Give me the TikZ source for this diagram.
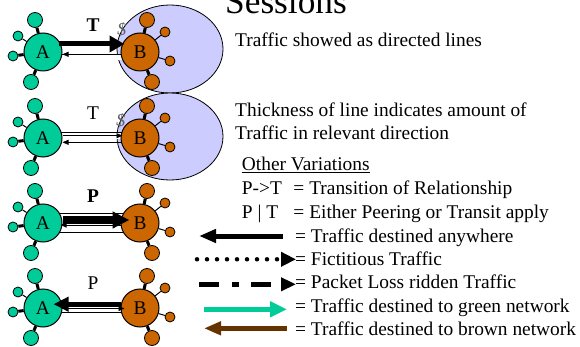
\documentclass[tikz,border=0pt]{standalone}
\usepackage{fontspec}
\setmainfont{Liberation Serif}
\usetikzlibrary{positioning,arrows.meta,backgrounds}
\definecolor{netgreen}{HTML}{00CC99}
\definecolor{netbrown}{HTML}{CC6600}
\definecolor{darkbrown}{HTML}{663300}
\definecolor{cloud}{HTML}{CCCCFF}

\begin{document}
\begin{tikzpicture}[x=1pt,y=-1pt,
		greenhub/.style={circle,draw=black,line width=1pt,fill=netgreen,inner sep=0pt,minimum size=38pt,font=\fontsize{19.4}{22}\selectfont},
		brownhub/.style={circle,draw=black,line width=1pt,fill=netbrown,inner sep=0pt,minimum size=38pt,font=\fontsize{19.4}{22}\selectfont},
		bigsat/.style={circle,draw=black,line width=0.8pt,inner sep=0pt,minimum size=15pt},
		smallsat/.style={circle,draw=black,line width=0.8pt,inner sep=0pt,minimum size=10pt},
		fatspoke/.style={line width=3pt},
		thinspoke/.style={line width=1pt},
		pipe/.style={line width=0.8pt,double=white,double distance=#1,shorten <=-4pt,shorten >=-4pt},
		bigflow/.style={line width=5pt,-{Triangle[length=15pt,width=16pt]}},
		smallflow/.style={line width=0.8pt,-{Triangle[length=6pt,width=5pt]}},
		tag/.style={anchor=base,inner sep=0pt,font=\fontsize{19.4}{23}\selectfont},
		dollar/.style={inner sep=0pt,text=gray!75!black,font=\fontsize{18}{18}\selectfont,rotate=-10},
		txt/.style={anchor=base west,inner sep=0pt,font=\fontsize{19.4}{23}\selectfont}]
		\useasboundingbox (0,0) rectangle (580,347);

		\foreach \r/\y in {1/52,2/138,3/223,4/308}{
			\node[greenhub]							(a\r)		at (43,\y)	{A};
			\node[brownhub,right=58pt of a\r]		(b\r)					{B};
			\node[bigsat,fill=netgreen]				(atop\r)	at ([shift={(-8,-32)}]a\r)	{};
			\node[smallsat,fill=netgreen]			(aul\r)		at ([shift={(-25,-16)}]a\r)	{};
			\node[smallsat,fill=netgreen]			(alft\r)	at ([shift={(-30,4)}]a\r)	{};
			\node[bigsat,fill=netgreen]				(abot\r)	at ([shift={(-12,30)}]a\r)	{};
			\node[bigsat,fill=netbrown]				(btop\r)	at ([shift={(7,-32)}]b\r)	{};
			\node[smallsat,fill=netbrown]			(bur\r)		at ([shift={(25,-20)}]b\r)	{};
			\node[smallsat,fill=netbrown]			(brt\r)		at ([shift={(30,9)}]b\r)	{};
			\node[bigsat,fill=netbrown]				(bbot\r)	at ([shift={(12,30)}]b\r)	{};

			\draw[fatspoke] (a\r) -- (atop\r);
			\draw[thinspoke] (a\r) -- (aul\r);
			\draw[fatspoke] (a\r) -- (alft\r);
			\draw[fatspoke] (a\r) -- (abot\r);
			\draw[fatspoke] (b\r) -- (btop\r);
			\draw[thinspoke] (b\r) -- (bur\r);
			\draw[thinspoke] (b\r) -- (brt\r);
			\draw[fatspoke] (b\r) -- (bbot\r);
		}

		\begin{pgfonlayer}{background}
			\draw[line width=0.8pt,fill=cloud] (170,49) ellipse [x radius=53pt,y radius=44pt];
			\draw[line width=0.8pt,fill=cloud] (170,136.5) ellipse [x radius=53pt,y radius=43.5pt];
			\draw[pipe=4.9pt] ([yshift=-5.2pt]a1.east) -- ([yshift=-5.2pt]b1.west);
			\draw[pipe=5.9pt] ([yshift=2.3pt]a2.east) -- ([yshift=2.3pt]b2.west);
			\draw[pipe=18.2pt] ([yshift=0.3pt]a3.east) -- ([yshift=0.3pt]b3.west);
			\draw[pipe=3pt] ([yshift=-2.4pt]a4.east) -- ([yshift=-2.4pt]b4.west);
		\end{pgfonlayer}

		\draw[bigflow,shorten <=-4pt,shorten >=-4pt] ([yshift=8pt]a1.east) -- ([yshift=8pt]b1.west);
		\draw[smallflow] ([yshift=-2.3pt]b1.west) -- ([yshift=-2.3pt]a1.east);

		\draw[smallflow,shorten >=-2pt] ([yshift=2.3pt]a2.east) -- ([yshift=2.3pt]b2.west);
		\draw[smallflow] ([yshift=-4.3pt]b2.west) -- ([yshift=-4.3pt]a2.east);

		\draw[smallflow,shorten >=-2pt] ([yshift=-2pt]b3.west) -- ([yshift=-2pt]a3.east);
		\draw[bigflow,line width=7pt,-{Triangle[length=17pt,width=16pt]},shorten >=-9pt] ([yshift=3pt]a3.east) -- ([yshift=3pt]b3.west);

		\draw[smallflow,shorten >=-4pt] ([yshift=-0.5pt]a4.east) -- ([yshift=-0.5pt]b4.west);
		\draw[bigflow,-{Triangle[length=15pt,width=14pt]},shorten >=-9pt] ([yshift=3.8pt]b4.west) -- ([yshift=3.8pt]a4.east);

		\node[tag]		(t1)	at (93,31.7)	{\textbf{T}};
		\node[tag]		(t2)	at (93,119.3)	{T};
		\node[tag]		(p3)	at (93,202.7)	{\textbf{P}};
		\node[tag]		(p4)	at (93,289)		{P};
		\node[dollar]	(d1)	at (122,30)		{\$};
		\node[dollar]	(d2)	at (121,121)	{\$};

		\node[anchor=base west,inner sep=0pt,font=\fontsize{35.3}{40}\selectfont] (title) at (225,14) {Sessions};
		\node[txt]	(note1)		at (235,46.7)	{Traffic showed as directed lines};
		\node[txt]	(note2)		at (235,116.7)	{Thickness of line indicates amount of};
		\node[txt]	(note3)		at (235,140)	{Traffic in relevant direction};
		\node[txt]	(other)		at (241.7,171)	{\underline{Other Variations}};
		\node[txt]	(ptot)		at (241.7,195)	{\makebox[51.6pt][l]{P->T}= Transition of Relationship};
		\node[txt]	(port)		at (241.7,218.5)	{\makebox[51.6pt][l]{P | T}= Either Peering or Transit apply};
		\node[txt]	(any)		at (295,242)	{= Traffic destined anywhere};
		\node[txt]	(fict)		at (295,265)	{= Fictitious Traffic};
		\node[txt]	(loss)		at (295,288.5)	{= Packet Loss ridden Traffic};
		\node[txt]	(togreen)	at (295,312.5)	{= Traffic destined to green network};
		\node[txt]	(tobrown)	at (295,335)	{= Traffic destined to brown network};

		\coordinate (k1) at (283,236);		\coordinate (k1e) at (199,236);
		\coordinate (k2) at (197,259.3);	\coordinate (k2e) at (296,259.3);
		\coordinate (k3) at (199,284.3);	\coordinate (k3e) at (296,284.3);
		\coordinate (k4) at (204,309.3);	\coordinate (k4e) at (287,309.3);
		\coordinate (k5) at (287,328.3);	\coordinate (k5e) at (204,328.3);
		\draw[line width=5pt,-{Triangle[length=17pt,width=13pt]}] (k1) -- (k1e);
		\draw[line width=4.5pt,line cap=round,dash pattern=on 0pt off 10pt,-{Triangle[length=15pt,width=14pt]}] (k2) -- (k2e);
		\draw[line width=5pt,dash pattern=on 20pt off 13pt on 7pt off 12pt,-{Triangle[length=15pt,width=13pt]}] (k3) -- (k3e);
		\draw[netgreen,line width=5pt,-{Triangle[length=17pt,width=15pt]}] (k4) -- (k4e);
		\draw[darkbrown,line width=5pt,-{Triangle[length=17pt,width=13pt]}] (k5) -- (k5e);
	\end{tikzpicture}
\end{document}
